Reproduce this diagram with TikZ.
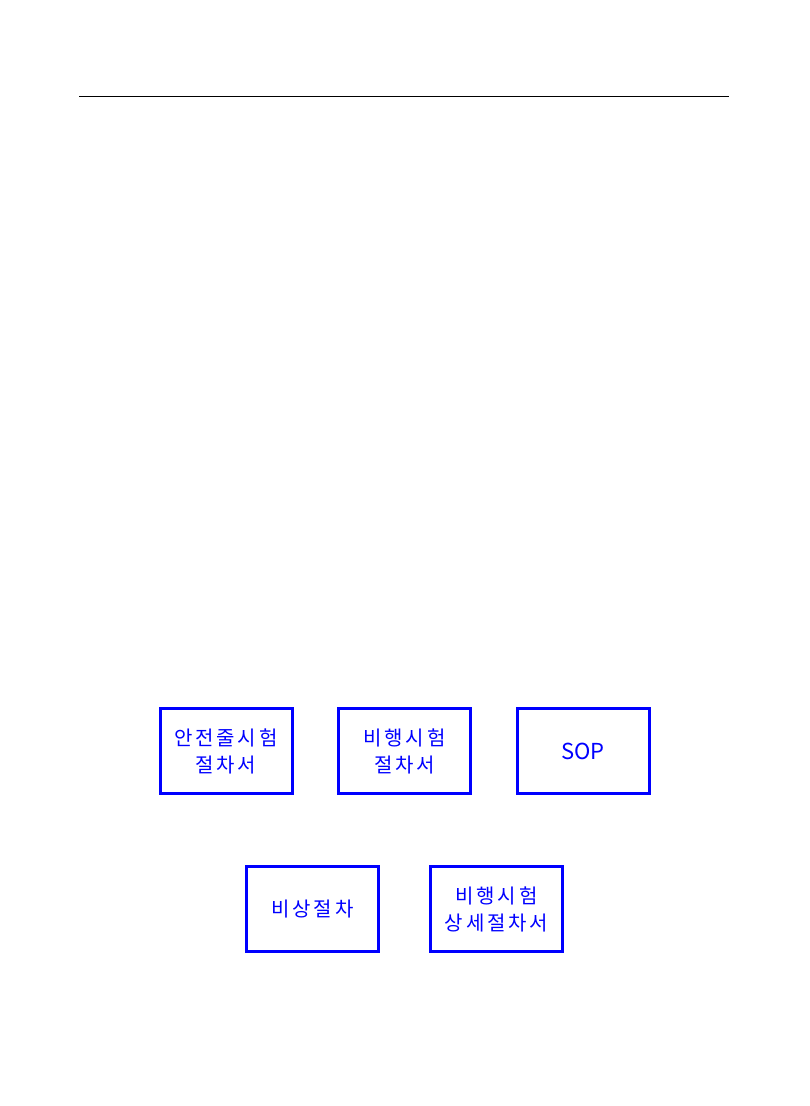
\documentclass[tikz,border=0pt]{standalone}
\usepackage{fontspec}
\setmainfont{Noto Sans CJK KR}
\newfontfamily\boxfont[LetterSpace=14]{Noto Sans CJK KR}
\begin{document}
\begin{tikzpicture}[x=1pt, y=-1pt, node distance={178.5pt}, main/.style = {draw=blue, line width=3pt, text=blue, minimum width=132pt, minimum height=85pt, align=center, font=\boxfont\fontsize{20pt}{27pt}\selectfont, inner sep=0pt, outer sep=0pt}, latin/.style = {font=\rmfamily\fontsize{22pt}{27pt}\selectfont}]
				\useasboundingbox (0,0) rectangle (809,1106);
				\coordinate (l) at (79,96);
				\coordinate (r) at (729,96);
				\draw[line width=1pt] (l) -- (r);
				\node[main] (1) at (226,751) {안전줄시험\\절차서};
				\node[main] (2) [right of = 1] {비행시험\\절차서};
				\node[main, latin] (3) [right of = 2] {SOP};
				\node[main] (4) at (312.5,909) {비상절차};
				\node[main] (5) at (496.5,909) {비행시험\\상세절차서};
			\end{tikzpicture}
\end{document}
